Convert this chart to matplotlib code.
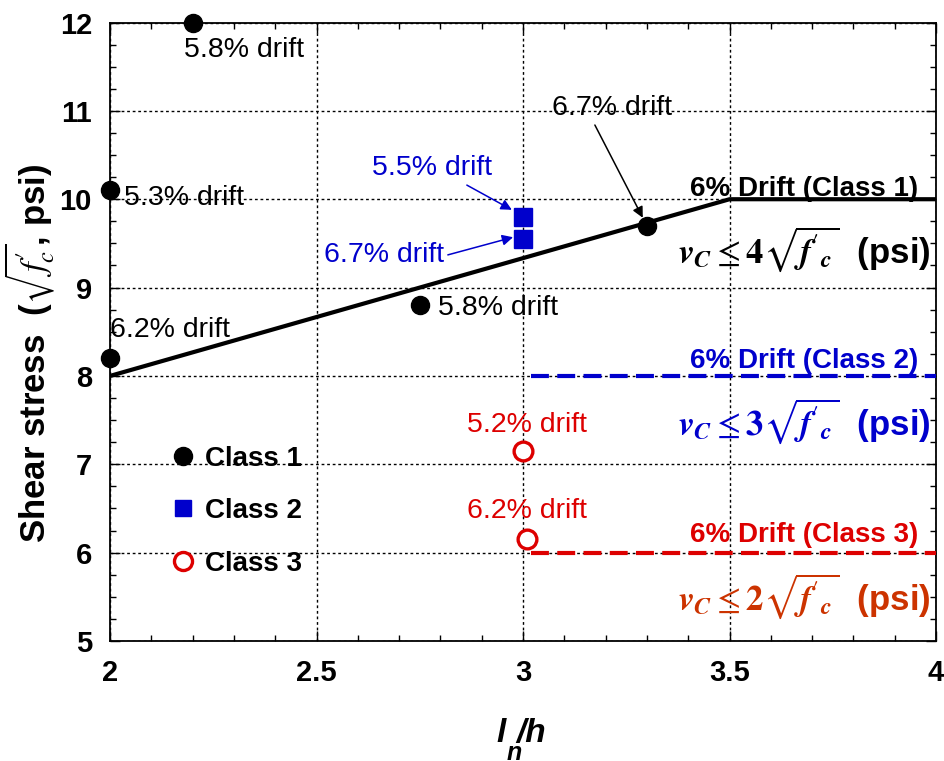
import matplotlib
matplotlib.use("Agg")
import matplotlib.pyplot as plt
from matplotlib.lines import Line2D

plt.rcParams["font.family"] = ["Liberation Sans", "DejaVu Sans"]
plt.rcParams["mathtext.fontset"] = "stix"

# ---- data -------------------------------------------------------------
class1_x = [2.2, 2.0, 2.0, 2.75, 3.3]
class1_y = [12.0, 10.1, 8.2, 8.8, 9.7]
class1_drift = ["5.8% drift", "5.3% drift", "6.2% drift", "5.8% drift", "6.7% drift"]

class2_x = [3.0, 3.0]
class2_y = [9.8, 9.55]
class2_drift = ["5.5% drift", "6.7% drift"]

class3_x = [3.0, 3.01]
class3_y = [7.15, 6.15]
class3_drift = ["5.2% drift", "6.2% drift"]

# code limits (6% drift) for each class
limit1_x = [2.0, 3.5, 4.0]
limit1_y = [8.0, 10.0, 10.0]
limit2_x = [3.02, 4.0]
limit2_y = [8.0, 8.0]
limit3_x = [3.02, 4.0]
limit3_y = [6.0, 6.0]

x_ticks = [2, 2.5, 3, 3.5, 4]
x_ticklabels = ["2", "2.5", "3", "3.5", "4"]
y_ticks = [5, 6, 7, 8, 9, 10, 11, 12]

BLUE = "#0000CC"
RED = "#DD0000"
ORANGE = "#CC3300"

# ---- figure -----------------------------------------------------------
fig = plt.figure(figsize=(9.45, 7.61), dpi=100)
ax = fig.add_axes([0.1164, 0.1577, 0.8741, 0.8127])

ax.set_xlim(2, 4)
ax.set_ylim(5, 12)
ax.set_xticks(x_ticks)
ax.set_xticklabels(x_ticklabels)
ax.set_yticks(y_ticks)
ax.set_xticks([2 + 0.1 * i for i in range(21)], minor=True)
ax.set_yticks([5 + 0.25 * i for i in range(29)], minor=True)
ax.tick_params(which="both", direction="in", top=True, right=True)
ax.tick_params(which="major", length=7, width=1, pad=13, labelsize=21)
ax.tick_params(which="minor", length=4, width=1)
for lab in ax.get_xticklabels() + ax.get_yticklabels():
    lab.set_fontweight("bold")
ax.grid(True, which="major", color="black", linestyle=(0, (2, 2)), linewidth=1)
for sp in ax.spines.values():
    sp.set_linewidth(1.3)

# limit lines
ax.plot(limit1_x, limit1_y, color="black", lw=3, solid_capstyle="butt", zorder=3)
ax.plot(limit2_x, limit2_y, color=BLUE, lw=3, linestyle=(0, (4.3, 2)), zorder=3)
ax.plot(limit3_x, limit3_y, color=RED, lw=3, linestyle=(0, (4.3, 2)), zorder=3)

# specimens
ax.plot(class1_x, class1_y, "o", color="black", ms=13, zorder=5, clip_on=False)
ax.plot(class2_x, class2_y, "s", color=BLUE, ms=12.5, zorder=5)
ax.plot(class3_x, class3_y, "o", mfc="white", mec=RED, mew=2.4, ms=13.5, zorder=5)

fs = 20.5
arrow_kw = dict(arrowstyle="-|>", lw=1.1, mutation_scale=16, shrinkA=0, shrinkB=0)

# Class 1 drift labels
ax.text(2.18, 11.69, class1_drift[0], fontsize=fs, ha="left", va="center")
ax.text(2.034, 10.01, class1_drift[1], fontsize=fs, ha="left", va="center")
ax.text(2.0, 8.52, class1_drift[2], fontsize=fs, ha="left", va="center")
ax.text(2.794, 8.77, class1_drift[3], fontsize=fs, ha="left", va="center")
ax.text(3.215, 11.03, class1_drift[4], fontsize=fs, ha="center", va="center")
ax.annotate("", xy=(3.29, 9.79), xytext=(3.174, 10.84),
            arrowprops=dict(color="black", **arrow_kw))

# Class 2 drift labels
ax.text(2.634, 10.35, class2_drift[0], fontsize=fs, color=BLUE, ha="left", va="center")
ax.annotate("", xy=(2.973, 9.88), xytext=(2.864, 10.16),
            arrowprops=dict(color=BLUE, **arrow_kw))
ax.text(2.518, 9.37, class2_drift[1], fontsize=fs, color=BLUE, ha="left", va="center")
ax.annotate("", xy=(2.976, 9.57), xytext=(2.818, 9.37),
            arrowprops=dict(color=BLUE, **arrow_kw))

# Class 3 drift labels
ax.text(3.01, 7.44, class3_drift[0], fontsize=fs, color=RED, ha="center", va="center")
ax.text(3.01, 6.47, class3_drift[1], fontsize=fs, color=RED, ha="center", va="center")

# limit descriptions
ytr = ax.get_yaxis_transform()
xr = 0.978
xf = 0.993
formula = r"$\mathbfit{{v_C}} \leq \mathbf{{{k}}}\sqrt{{\mathbfit{{f}}'_{{\mathbfit{{c}}}}}}$  (psi)"
ax.text(xr, 10.12, "6% Drift (Class 1)", fontsize=20, fontweight="bold",
        ha="right", va="center", transform=ytr)
ax.text(xf, 9.43, formula.format(k=4), fontsize=25,
        fontweight="bold", ha="right", va="center", transform=ytr)
ax.text(xr, 8.17, "6% Drift (Class 2)", fontsize=20, fontweight="bold", color=BLUE,
        ha="right", va="center", transform=ytr)
ax.text(xf, 7.48, formula.format(k=3), fontsize=25,
        fontweight="bold", color=BLUE, ha="right", va="center", transform=ytr)
ax.text(xr, 6.2, "6% Drift (Class 3)", fontsize=20, fontweight="bold", color=RED,
        ha="right", va="center", transform=ytr)
ax.text(xf, 5.5, formula.format(k=2), fontsize=25,
        fontweight="bold", color=ORANGE, ha="right", va="center", transform=ytr)

# legend
handles = [
    Line2D([], [], marker="o", ls="none", color="black", ms=13),
    Line2D([], [], marker="s", ls="none", color=BLUE, ms=11),
    Line2D([], [], marker="o", ls="none", mfc="white", mec=RED, mew=2.4, ms=13),
]
ax.legend(handles, ["Class 1", "Class 2", "Class 3"], loc="center left",
          bbox_to_anchor=(0.071, 0.21), frameon=False, borderpad=0,
          borderaxespad=0, handlelength=1, handletextpad=0.3,
          labelspacing=0.95, prop={"size": 20, "weight": "bold"})

# axis labels
ax.set_ylabel(r"Shear stress  ($\sqrt{f_c'}$, psi)", fontsize=25, fontweight="bold")
ax.yaxis.set_label_coords(-0.064, 0.465)
lab_kw = dict(fontweight="bold", style="italic", transform=ax.transAxes)
ax.text(0.474, -0.163, "l", fontsize=24, ha="center", va="baseline", **lab_kw)
ax.text(0.492, -0.163, "/h", fontsize=24, ha="left", va="baseline", **lab_kw)
ax.text(0.489, -0.1924, "n", fontsize=18, ha="center", va="baseline", **lab_kw)

fig.savefig("out.png", dpi=100)
